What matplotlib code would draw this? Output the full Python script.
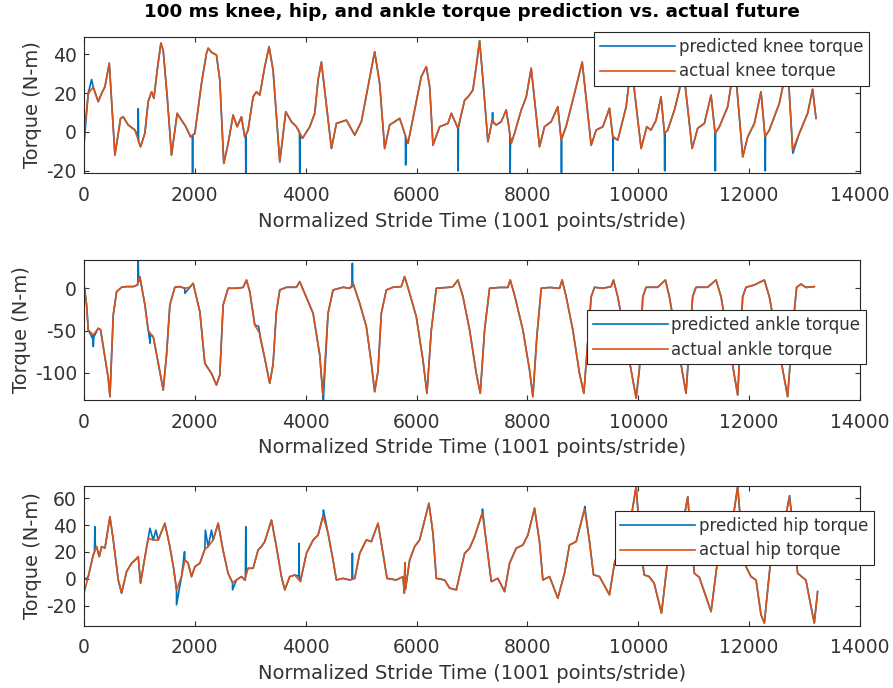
import numpy as np
import matplotlib.pyplot as plt

plt.rcParams['font.family'] = 'DejaVu Sans'
plt.rcParams['axes.unicode_minus'] = False

## MATLAB default line colours
BLUE = '#0072BD'
ORANGE = '#D95319'

## values: [sample, torque N-m]
knee_actual = np.array([
    [0, -2], [78, 20], [168, 23], [258, 15.6], [319, 19.9], [379, 23.3], [457, 35.4], [559, -11.9],
    [661, 7], [709, 7.8], [799, 3.6], [919, 1], [979, -4], [1021, -7.6], [1099, -0.7], [1159, 15.6],
    [1220, 20.7], [1262, 17.3], [1322, 31.9], [1388, 45.7], [1430, 42], [1502, 18.1], [1580, -11.9],
    [1682, 9.6], [1760, 6.1], [1839, 2.7], [1923, -2.5], [2001, -0.7], [2121, 25.1], [2211, 40.5],
    [2241, 43.1], [2301, 41], [2391, 39.6], [2451, 26.8], [2523, -16.2], [2601, -5.9], [2691, 8.7],
    [2763, 2.7], [2841, 7.8], [2901, -2.5], [2961, 1], [3052, 18.1], [3112, 20.7], [3172, 19],
    [3262, 33.6], [3340, 43.9], [3412, 31.9], [3533, -15.4], [3641, 10.4], [3743, 5.3], [3833, 2.7],
    [3942, -3.3], [4074, 2.7], [4164, 9.6], [4224, 26.8], [4284, 36], [4465, -8.5], [4555, 4.4],
    [4735, 6.1], [4885, -1.6], [5005, 5.3], [5125, 23.3], [5245, 41.3], [5335, 25], [5425, -8.5],
    [5515, 3.6], [5696, 7], [5756, 1.9], [5846, -5.9], [5966, 11.3], [6086, 28.5], [6177, 33.6],
    [6237, 23.3], [6297, -6.8], [6417, 2.7], [6567, 4.4], [6628, 9.6], [6747, 1.9], [6868, 16.4],
    [6928, 18], [7017, 21.6], [7077, 33.6], [7138, 47], [7198, 27], [7288, -5], [7366, 6],
    [7438, 3.6], [7528, 5.3], [7618, 11.3], [7666, 2.7], [7708, -5.9], [7768, -0.7], [7889, 11.3],
    [7979, 18], [8069, 32.8], [8219, -7.6], [8309, 2.7], [8429, 5.3], [8549, 13], [8610, -4.2],
    [8700, 3], [8820, 16.4], [8989, 36], [9151, -6.8], [9241, 1], [9361, 2.7], [9481, 12.2],
    [9541, -2.5], [9631, -4.2], [9782, 13], [9885, 38], [9932, 21], [10052, -8.5], [10154, 2.7],
    [10230, 1], [10322, 6.1], [10412, 18.1], [10472, -0.7], [10532, 1], [10653, 11.3], [10743, 21.6],
    [10800, 36], [10972, -8.5], [11073, 1.9], [11193, 4.4], [11314, 19], [11386, -0.7], [11464, 2.7],
    [11614, 13], [11740, 36], [11885, -12.8], [11975, -2.5], [12095, 4.4], [12215, 20.7],
    [12287, -2.5], [12365, 1], [12545, 14.7], [12695, 35], [12785, -9.3], [12906, -0.7],
    [13056, 9.6], [13146, 22], [13207, 7],
])
## where the prediction leaves the actual curve (spikes at stride changes)
knee_pred_extra = np.array([
    [0, -7], [138, 27], [972, -2], [979, 12], [986, -5],
    [1955, -2], [1960, -21], [1965, -1.5], [2915, -2], [2920, -21], [2925, -1.5],
    [3888, 0], [3893, -21], [3898, -1], [5799, -2], [5804, -17], [5809, -3],
    [6752, -20], [6757, 2.5], [7372, 10], [7380, 5], [7685, -2], [7690, -21], [7695, -3],
    [8615, -21], [8620, -3.5], [9546, -20], [9551, -2.5], [10477, -20], [10482, -0.5],
    [11391, -20], [11396, -0.5], [12292, -20], [12297, -2], [12790, -11],
])

ankle_actual = np.array([
    [0, 5], [48, -19.8], [78, -49.4], [168, -55.3], [258, -47.4], [300, -49], [439, -106.6],
    [469, -128.4], [529, -31.6], [589, -4], [679, 1.2], [769, 2], [889, 2], [961, 3.9], [1009, 13.8],
    [1100, -19.8], [1159, -49.4], [1190, -53], [1250, -57.3], [1370, -98.8], [1430, -120.5],
    [1490, -79], [1550, -19.8], [1640, 1.2], [1730, 2], [1820, 0], [1910, 1.2], [1970, 5.9],
    [2091, -27.7], [2181, -88.9], [2241, -94.8], [2301, -100.8], [2391, -114.6], [2451, -102.7],
    [2511, -19.8], [2601, 0], [2751, 0], [2871, 1], [2932, 9.8], [2992, -4], [3082, -43.5],
    [3172, -53.4], [3262, -83], [3352, -112.6], [3412, -90], [3472, -27.7], [3533, -2], [3653, 1.2],
    [3833, 1.2], [3893, 7.9], [3983, -6], [4134, -29.6], [4254, -79], [4310, -126.4], [4404, -29.6],
    [4494, -2], [4674, 1.2], [4794, 0], [4855, 5.9], [4975, -17.8], [5095, -45.5], [5185, -88.9],
    [5245, -122.5], [5305, -98], [5365, -29.6], [5455, -2], [5575, 1.2], [5725, 2], [5786, 13.8],
    [5876, -6], [5996, -33.6], [6116, -85], [6188, -124.4], [6267, -49.4], [6357, 0], [6597, 1.2],
    [6657, 2], [6747, 9.8], [6838, -10], [6958, -49.4], [7078, -100.7], [7150, -124.4],
    [7228, -49.4], [7318, 0], [7498, 1], [7648, 1], [7691, 9.8], [7768, -8], [7919, -49.4],
    [8039, -96.8], [8099, -128.4], [8171, -57], [8250, 0], [8400, 1], [8580, 0], [8627, 9.8],
    [8700, -10], [8820, -49.4], [8940, -100.7], [9019, -124.4], [9091, -61.3], [9151, -10],
    [9211, 1.2], [9361, 0], [9511, 2], [9553, 9.8], [9631, -10], [9962, -130], [10022, -95],
    [10082, -10], [10142, 1.2], [10352, 1.2], [10490, 9.8], [10562, -10], [10862, -124.4],
    [10982, -10], [11042, 1.2], [11252, 1.2], [11403, 9.8], [11494, -10], [11794, -126.4],
    [11884, -10], [11944, 1.2], [12094, 3.9], [12275, 9.8], [12365, -10], [12695, -128.4],
    [12785, -49], [12857, 1.2], [12935, 5], [13025, 1], [13176, 2],
])
ankle_pred_extra = np.array([
    [160, -60], [168, -69], [176, -58], [970, 4], [979, 33.5], [988, 8],
    [1185, -60], [1190, -65], [1200, -55], [1820, -6], [3150, -45], [3172, -56],
    [4320, -132], [4838, 2], [4843, 29.6], [4848, 4],
])

hip_actual = np.array([
    [0, -11], [78, 1.6], [168, 17.8], [228, 24], [276, 16.5], [319, 24], [379, 22.8], [469, 46.3],
    [529, 28.9], [619, -0.9], [679, -10.8], [769, 5.3], [859, 11.6], [949, 15], [979, 16.5],
    [1021, -3.3], [1081, 11.6], [1159, 30.2], [1250, 28.9], [1340, 28.9], [1460, 41.4], [1550, 24],
    [1622, 6.8], [1670, -8.3], [1760, 1.6], [1820, 14], [1880, 11.6], [1940, 1.6], [2001, 9],
    [2091, 11.6], [2181, 22], [2241, 24], [2331, 28.9], [2421, 41.4], [2511, 21], [2601, 4],
    [2681, -3], [2751, -0.9], [2841, 1.6], [2901, -0.9], [2961, 7.8], [3052, 7.8], [3142, 21.5],
    [3202, 24], [3262, 27.7], [3383, 43.8], [3472, 24], [3563, 1.6], [3623, -8.3], [3713, 1.6],
    [3803, 2.8], [3905, -2], [4014, 19], [4134, 28.9], [4224, 32.6], [4314, 47], [4404, 33.9],
    [4494, 14], [4554, -0.9], [4674, 0.3], [4794, -0.9], [4885, 0.3], [4975, 19], [5095, 29],
    [5185, 27.7], [5305, 41.4], [5395, 19], [5467, 0.3], [5636, -0.9], [5756, 1.6], [5780, -10.8],
    [5790, 12], [5800, -8], [5876, 14], [5966, 24], [6056, 29], [6224, 56.3], [6297, 33.9],
    [6357, 0.3], [6507, -0.9], [6597, -7], [6718, -8.3], [6868, 19], [6958, 22.8], [7048, 31.4],
    [7186, 49], [7258, 27.7], [7349, -2.1], [7468, 0.3], [7589, -9.6], [7679, 11.6], [7799, 22.8],
    [7919, 25.2], [8009, 32.6], [8129, 52.6], [8219, 27.7], [8279, -0.9], [8400, 1.6],
    [8549, -14.5], [8669, 4], [8760, 25.2], [8880, 27.7], [9031, 52], [9121, 27.7], [9193, 3],
    [9301, 1.6], [9481, -12], [9571, 11.6], [9700, 28], [9850, 40], [9962, 69], [10040, 25],
    [10107, 2.9], [10197, 1.6], [10287, -3.3], [10420, -25.7], [10520, 10], [10650, 28],
    [10800, 40], [10893, 61.2], [10960, 25], [11013, 4.1], [11103, 1], [11314, -24.5], [11420, 10],
    [11550, 28], [11700, 42], [11794, 69], [11870, 30], [11945, 9], [12035, 1.6], [12125, -1],
    [12215, -26.9], [12275, -33], [12380, 10], [12500, 28], [12640, 42], [12726, 61.2],
    [12785, 41.4], [12875, 4.1], [13025, -1], [13116, -20.7], [13176, -33], [13236, -9.6],
])
hip_pred_extra = np.array([
    [0, 24], [5, -1], [190, 20], [198, 38.8], [206, 24], [1190, 37.7], [1298, 36.3],
    [1670, -19.5], [1815, 20.2], [2190, 36.3], [2301, 36.3], [2681, -8.3],
    [2912, -1], [2920, 38.8], [2928, 5], [3876, 2], [3881, 26.5], [3886, 0], [4320, 51.3],
    [4838, -0.5], [4843, 19], [4848, 0], [7190, 52], [9035, 54], [12730, 62],
])

x_ticks = [0, 2000, 4000, 6000, 8000, 10000, 12000, 14000]
title = '100 ms knee, hip, and ankle torque prediction vs. actual future'
xlab = 'Normalized Stride Time (1001 points/stride)'


def pred_line(actual, extra):
    ## prediction follows the actual curve plus its own deviations
    pts = np.concatenate([actual, extra])
    order = np.argsort(pts[:, 0], kind='stable')
    return pts[order]


fig = plt.figure(figsize=(8.93, 6.88), dpi=100)

panels = [
    ('knee', knee_actual, knee_pred_extra, (-21.3, 49), [-20, 0, 20, 40],
     [0.094, 0.748, 0.869, 0.1986], (0.9731, 0.9535)),
    ('ankle', ankle_actual, ankle_pred_extra, (-132.3, 33.5), [-100, -50, 0],
     [0.094, 0.4186, 0.869, 0.2035], (0.9698, 0.5494)),
    ('hip', hip_actual, hip_pred_extra, (-35, 69.2), [-20, 0, 20, 40, 60],
     [0.094, 0.0906, 0.869, 0.203], (0.9787, 0.2573)),
]

for name, act, extra, ylim, yticks, rect, anchor in panels:
    ax = fig.add_axes(rect)
    p = pred_line(act, extra)
    ax.plot(p[:, 0], p[:, 1], color=BLUE, lw=1.2, label='predicted %s torque' % name)
    ax.plot(act[:, 0], act[:, 1], color=ORANGE, lw=1.2, label='actual %s torque' % name)
    ax.set_xlim(0, 14000)
    ax.set_ylim(*ylim)
    ax.set_xticks(x_ticks)
    ax.set_yticks(yticks)
    ax.tick_params(direction='in', top=True, right=True, length=3.6, width=0.8,
                   labelsize=13.5, colors='0.2')
    ax.tick_params(axis='x', pad=9)
    ax.tick_params(axis='y', pad=5)
    for s in ax.spines.values():
        s.set_color('0.15')
        s.set_linewidth(0.8)
    ax.set_xlabel(xlab, fontsize=14, color='0.2', labelpad=5)
    ax.set_ylabel('Torque (N-m)', fontsize=14, color='0.2', labelpad=3)
    leg = ax.legend(loc='upper right', bbox_to_anchor=anchor, bbox_transform=fig.transFigure,
                    borderaxespad=0, fontsize=12, handlelength=4.5, handletextpad=0.2,
                    borderpad=0.35, labelspacing=0.4, fancybox=False, framealpha=1,
                    edgecolor='0.15')
    leg.get_frame().set_linewidth(0.8)
    for t in leg.get_texts():
        t.set_color('0.2')

fig.text(0.5286, 0.982, title, ha='center', va='center', fontsize=13.2, weight='bold')

fig.savefig('out.png', dpi=100)
